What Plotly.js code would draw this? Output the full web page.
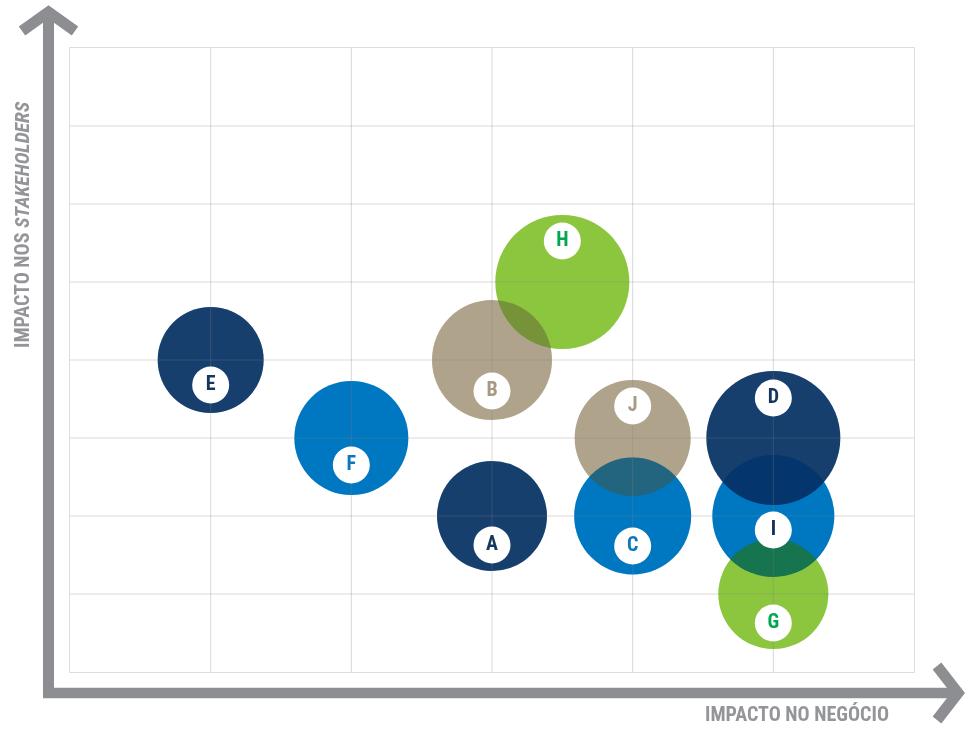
<!DOCTYPE html>
<html>
<head>
<meta charset="utf-8">
<script src="https://cdn.plot.ly/plotly-3.0.1.min.js"></script>
<style>
  html, body { margin: 0; padding: 0; background: #ffffff; }
  #chart { width: 966px; height: 729px; }
  #chart .scatterlayer .trace:first-child path.point { mix-blend-mode: multiply; }
</style>
</head>
<body>
<div id="chart"></div>
<script>
// ---- data ----
const temas = ['A', 'B', 'C', 'D', 'E', 'F', 'G', 'H', 'I', 'J'];
const impactoNegocio = [3, 3, 4, 5, 1, 2, 5, 3.5, 5, 4];
const impactoStakeholders = [2, 4, 2, 3, 4, 3, 1, 5, 2, 3];
const relevancia = [110, 120, 117, 134, 106, 114, 110, 134, 122, 116];
const grupo = ['navy', 'tan', 'blue', 'navy', 'navy', 'blue', 'green', 'green', 'blue', 'tan'];
const xTicks = [0, 1, 2, 3, 4, 5, 6];
const yTicks = [0, 1, 2, 3, 4, 5, 6, 7, 8];

// ---- styles ----
const bubbleColor = { navy: '#173f6e', blue: '#0079c1', tan: '#b1a38c', green: '#8dc63f' };
const letterColor = { navy: '#17365f', blue: '#0a77be', tan: '#a89a82', green: '#00a651' };
const letterColorOverride = { I: '#132f5c' };
// label badge vertical offset from bubble centre, in pixels (positive = below)
const labelShiftPx = [29, 31, 30, -40, 25, 27, 29, -41, 14, -32];
const FONT = '"Liberation Sans Narrow", "Roboto Condensed", "DejaVu Sans Condensed", sans-serif';

const W = 966, H = 729;
const M = { l: 70, r: 52, t: 48, b: 57 };
const plotW = W - M.l - M.r, plotH = H - M.t - M.b;
const xMin = xTicks[0], xMax = xTicks[xTicks.length - 1];
const yMin = yTicks[0], yMax = yTicks[yTicks.length - 1];
const pxPerY = plotH / (yMax - yMin);

const colors = grupo.map(g => bubbleColor[g]);

// bubbles, multiplied together where they overlap
const bubbles = {
  type: 'scatter', mode: 'markers',
  x: impactoNegocio, y: impactoStakeholders,
  marker: { size: relevancia, sizemode: 'diameter', sizeref: 1, color: colors, opacity: 1, line: { width: 0 } },
  cliponaxis: false, hoverinfo: 'skip'
};
// light tint pass that softens the multiplied overlaps
const bubblesTint = {
  type: 'scatter', mode: 'markers',
  x: impactoNegocio, y: impactoStakeholders,
  marker: { size: relevancia, sizemode: 'diameter', sizeref: 1, color: colors, opacity: 0.2, line: { width: 0 } },
  cliponaxis: false, hoverinfo: 'skip'
};

// interior grid lines drawn above bubbles
const gx = [], gy = [];
xTicks.slice(1, -1).forEach(v => { gx.push(v, v, null); gy.push(yMin, yMax, null); });
yTicks.slice(1, -1).forEach(v => { gx.push(xMin, xMax, null); gy.push(v, v, null); });
const grid = {
  type: 'scatter', mode: 'lines', x: gx, y: gy,
  line: { color: 'rgba(125,125,125,0.3)', width: 1 },
  hoverinfo: 'skip', connectgaps: false
};

const badges = {
  type: 'scatter', mode: 'markers+text',
  x: impactoNegocio,
  y: impactoStakeholders.map((v, i) => v - labelShiftPx[i] / pxPerY),
  text: temas.map(t => '<b>' + t + '</b>'),
  textposition: 'middle center',
  textfont: {
    family: FONT, size: 20, weight: 'bold',
    color: temas.map((t, i) => letterColorOverride[t] || letterColor[grupo[i]])
  },
  marker: { size: 37, color: '#ffffff', line: { width: 0 } },
  cliponaxis: false, hoverinfo: 'skip'
};

// pixel -> paper helpers for decorations
const px = x => (x - M.l) / plotW;
const py = y => (H - M.b - y) / plotH;
const arrowColor = '#8d8e91';
const P = pts => 'M ' + pts.map(p => px(p[0]) + ',' + py(p[1])).join(' L ');

const shapes = [
  { type: 'path', xref: 'paper', yref: 'paper', path: P([[48.5, 698], [48.5, 12]]), line: { color: arrowColor, width: 11 } },
  { type: 'path', xref: 'paper', yref: 'paper', path: P([[22, 31], [48.5, 12], [75, 31]]), line: { color: arrowColor, width: 11 } },
  { type: 'path', xref: 'paper', yref: 'paper', path: P([[43, 693], [958, 693]]), line: { color: arrowColor, width: 10.5 } },
  { type: 'path', xref: 'paper', yref: 'paper', path: P([[937, 666], [958, 693], [937, 720]]), line: { color: arrowColor, width: 11 } }
];

const titleFont = { family: FONT, size: 20, color: '#939598', weight: 'bold' };

const annotations = [
  { xref: 'paper', yref: 'paper', x: px(22), y: py(225), text: '<b>IMPACTO NOS <i>STAKEHOLDERS</i></b>',
    textangle: -90, showarrow: false, font: titleFont, xanchor: 'center', yanchor: 'middle' },
  { xref: 'paper', yref: 'paper', x: px(796.5), y: py(714), text: '<b>IMPACTO NO NEGÓCIO</b>',
    showarrow: false, font: titleFont, xanchor: 'center', yanchor: 'middle' }
];

const axisBase = {
  showgrid: false, zeroline: false, showticklabels: false, ticks: '',
  showline: true, mirror: true, linecolor: '#dddddd', linewidth: 1, fixedrange: true
};

const layout = {
  width: W, height: H,
  margin: M,
  paper_bgcolor: '#ffffff', plot_bgcolor: '#ffffff',
  showlegend: false, hovermode: false,
  xaxis: Object.assign({}, axisBase, { range: [xMin, xMax], tickvals: xTicks }),
  yaxis: Object.assign({}, axisBase, { range: [yMin, yMax], tickvals: yTicks }),
  shapes: shapes,
  annotations: annotations
};

Plotly.newPlot('chart', [bubbles, bubblesTint, grid, badges], layout, { displayModeBar: false, staticPlot: true });
</script>
</body>
</html>
